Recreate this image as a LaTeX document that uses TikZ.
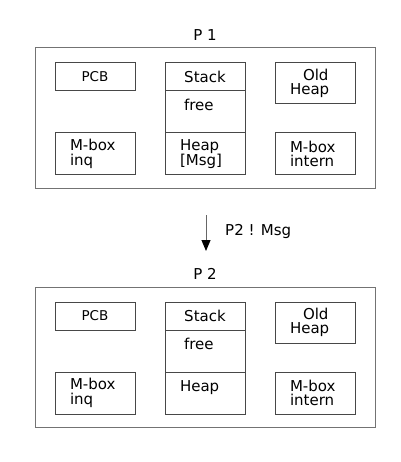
\documentclass[tikz,border=0pt]{standalone}
\usepackage{fontspec}
\setmainfont{DejaVu Sans}
\usetikzlibrary{arrows.meta,positioning}

\begin{document}
\begin{tikzpicture}[
  x=1pt,y=-1pt,
  procbox/.style={rectangle,draw=black!55,line width=1pt,minimum width=340pt,minimum height=140pt,inner sep=0pt},
  memcell/.style={rectangle,draw=black!72,line width=1pt,minimum width=80pt,inner sep=0pt,outer sep=0pt,font=\fontsize{15}{14.5}\selectfont},
  leftcell/.style={memcell,text width=50pt,align=left},
  title/.style={font=\fontsize{15}{14.5}\selectfont,inner sep=0pt},
  arr/.style={-{Triangle[width=9pt,length=11pt,black]},draw=black!60,line width=1pt}
]
\useasboundingbox (0,0) rectangle (400,462);

% process P1
\node[procbox] (p1) at (205,118) {};
\node[title] (p1title) at (205,35) {P 1};
\node[memcell,minimum height=28pt,font=\fontsize{13.5}{13.5}\selectfont] (p1pcb) at (95,77) {PCB};
\node[leftcell,minimum height=42pt] (p1inq) at (95,154) {M-box\\inq};
\node[memcell,minimum height=28pt] (p1stack) at (205,77) {Stack};
\node[leftcell,minimum height=42pt,below=0pt of p1stack] (p1free) {\hspace*{4pt}free\\\mbox{}};
\node[leftcell,minimum height=42pt,below=0pt of p1free] (p1heap) {Heap\\{[}Msg{]}};
\node[leftcell,minimum height=41pt] (p1old) at (315,83.5) {\hspace*{13pt}Old\\Heap};
\node[leftcell,minimum height=42pt] (p1intern) at (315,154) {M-box\\intern};

% message send
\coordinate (sendtop) at (206,215);
\coordinate (sendtip) at (206,251);
\draw[arr] (sendtop) -- (sendtip);
\node[title,anchor=west] (sendlabel) at (225,231) {P2 ! Msg};

% process P2
\node[procbox] (p2) at (205,357) {};
\node[title] (p2title) at (205,274) {P 2};
\node[memcell,minimum height=28pt,font=\fontsize{13.5}{13.5}\selectfont] (p2pcb) at (95,316) {PCB};
\node[leftcell,minimum height=42pt] (p2inq) at (95,393) {M-box\\inq};
\node[memcell,minimum height=28pt] (p2stack) at (205,316) {Stack};
\node[leftcell,minimum height=42pt,below=0pt of p2stack] (p2free) {\hspace*{4pt}free\\\mbox{}};
\node[leftcell,minimum height=42pt,below=0pt of p2free] (p2heap) {Heap\\\mbox{}};
\node[leftcell,minimum height=41pt] (p2old) at (315,322.5) {\hspace*{13pt}Old\\Heap};
\node[leftcell,minimum height=42pt] (p2intern) at (315,393) {M-box\\intern};
\end{tikzpicture}
\end{document}
